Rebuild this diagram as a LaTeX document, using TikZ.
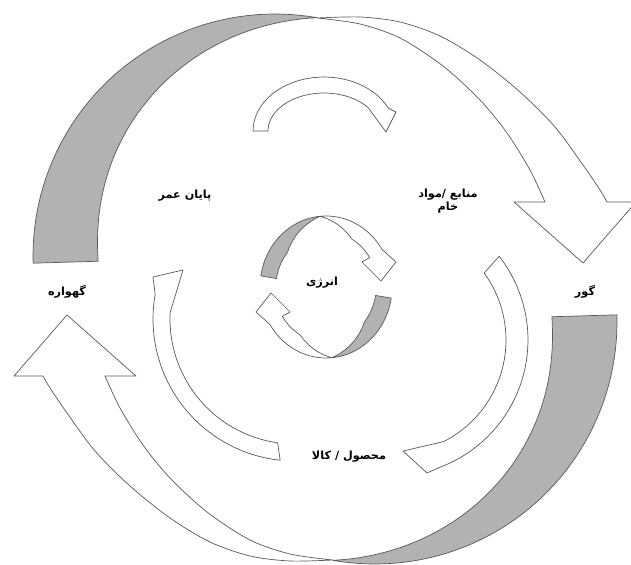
\documentclass[tikz,border=0pt]{standalone}
\usepackage{fontspec}
\newfontfamily\arabicfont[Script=Arabic]{DejaVu Sans}
\TeXXeTstate=1
\tikzset{
  ribbon/.style={fill=white, draw=black!65, line width=0.5pt, line join=round},
  ribbongrey/.style={ribbon, fill=black!30},
  lbl/.style={font=\arabicfont\bfseries\footnotesize, align=center},
}

\begin{document}
\begin{tikzpicture}[x=0.025cm, y=-0.025cm]
\clip (0,0) rectangle (631,565);
% big outer ring, two twisted arrows
\foreach \ang in {0,180} {
\begin{scope}[rotate around={\ang:(325,289)}]
\filldraw[ribbongrey] plot[domain=181.7:80, samples=50] ({275+242*cos(\x)}, {256-242*sin(\x)})
  -- plot[domain=80:181.7, samples=50] ({275+(177+65*(182-\x)/102*sqrt((182-\x)/102))*cos(\x)}, {256-(177+65*(182-\x)/102*sqrt((182-\x)/102))*sin(\x)}) -- cycle;
\filldraw[ribbon] plot[smooth] coordinates {(317,18) (360,17) (400,22) (440,36) (480,60) (520,92) (555,127) (583,165) (600,190) (607,202)}
  -- (636,202) -- (583,263) -- (514,202) -- (545,202)
  -- plot[smooth] coordinates {(545,202) (530,170) (507,133) (480,100) (443,66) (400,38) (360,24) (317,18)} -- cycle;
\end{scope}
}
% three step arrows
\filldraw[ribbon] plot[domain=180:25, samples=30] ({324+71*cos(\x)}, {131-54*sin(\x)})
  -- (396,112) -- (386,132) -- plot[domain=38:180, samples=30] ({324+56*cos(\x)}, {131-38*sin(\x)}) -- cycle;
\filldraw[ribbon] plot[domain=38:-70, samples=40] ({392+136*cos(\x)}, {340-136*sin(\x)})
  -- (427,473) -- (403,451) -- plot[domain=-63:36, samples=40] ({392+114*cos(\x)}, {340-114*sin(\x)}) -- cycle;
\filldraw[ribbon] plot[domain=264:170, samples=40] ({295+142*cos(\x)}, {319-142*sin(\x)})
  -- (153,277) -- (183,270) -- plot[domain=177:262, samples=40] ({295+125*cos(\x)}, {319-125*sin(\x)}) -- cycle;
% energy ring
\foreach \ang in {0,180} {
\begin{scope}[rotate around={\ang:(326,287)}]
\filldraw[ribbongrey] plot[domain=171:95, samples=30] ({326+66*cos(\x)}, {287-71*sin(\x)})
  -- plot[domain=95:171, samples=30] ({326+66*(1-0.24*min(1,(\x-95)/45))*cos(\x)}, {287-71*(1-0.24*min(1,(\x-95)/45))*sin(\x)}) -- cycle;
\filldraw[ribbon] plot[domain=95:32, samples=30] ({326+66*cos(\x)}, {287-71*sin(\x)})
  -- (396,262) -- (381,281) -- (362,262)
  -- plot[domain=32:95, samples=30] ({326+66*(1-0.22*min(1,(95-\x)/35))*cos(\x)}, {287-71*(1-0.22*min(1,(95-\x)/35))*sin(\x)}) -- cycle;
\end{scope}
}
% labels
\node[lbl] (cradle) at (67,292) {\beginR گهواره\endR};
\node[lbl] (grave) at (585,292) {\beginR گور\endR};
\node[lbl] (endlife) at (185,196) {\beginR پایان عمر\endR};
\node[lbl] (resources) at (448,201) {\beginR منابع /مواد\endR\\\beginR خام\endR};
\node[lbl] (energy) at (322,283) {\beginR انرژی\endR};
\node[lbl] (product) at (349,457) {\beginR محصول / کالا\endR};
\end{tikzpicture}
\end{document}
